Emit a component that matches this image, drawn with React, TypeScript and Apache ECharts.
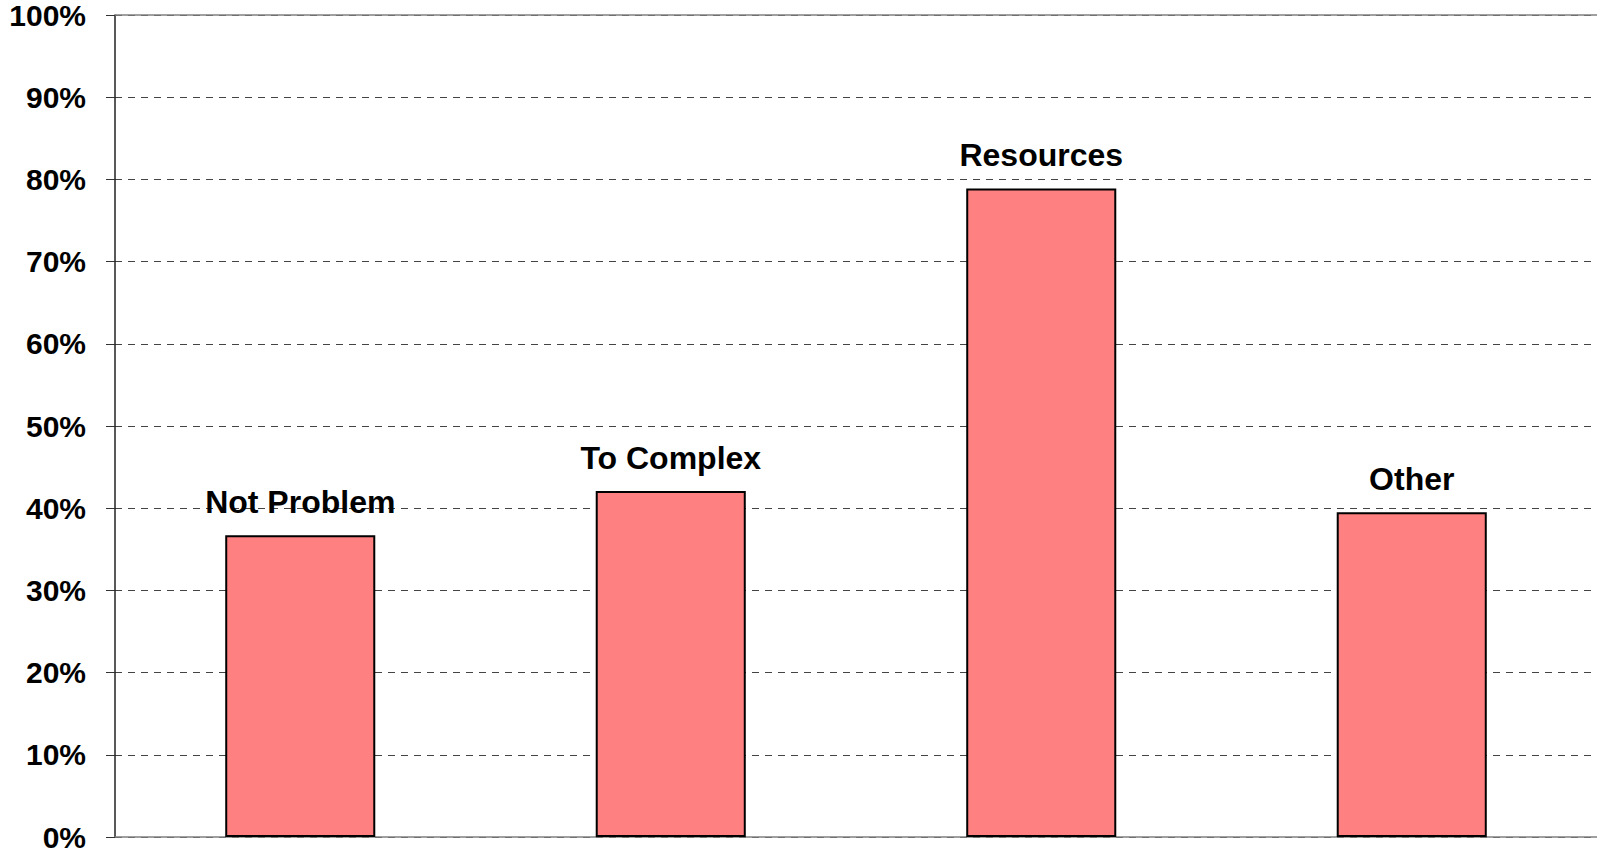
import React, { useEffect, useRef } from "react";
import * as echarts from "echarts";

const categories = ["Not Problem", "To Complex", "Resources", "Other"];
const values = [36.7, 42.1, 78.9, 39.5];

export default function App() {
  const ref = useRef<HTMLDivElement>(null);
  useEffect(() => {
    if (!ref.current) return;
    const chart = echarts.init(ref.current, null, { renderer: "svg" });
    chart.setOption({
      animation: false,
      backgroundColor: "#ffffff",
      grid: { left: 115, right: 0, top: 15, bottom: 21, containLabel: false },
      xAxis: {
        type: "category",
        data: categories,
        axisLine: { show: true, lineStyle: { color: "#808080", width: 1.5 } },
        axisTick: { show: false },
        axisLabel: { show: false },
        splitLine: { show: false },
      },
      yAxis: {
        type: "value",
        min: 0,
        max: 100,
        interval: 10,
        axisLine: { show: true, lineStyle: { color: "#222222", width: 1.5 } },
        axisTick: { show: true, length: 9, lineStyle: { color: "#333333", width: 1 } },
        axisLabel: {
          formatter: "{value}%",
          margin: 29,
          fontFamily: "Liberation Sans, Arial, sans-serif",
          fontWeight: "bold",
          fontSize: 30,
          padding: [5, 0, 0, 0],
          verticalAlign: "middle",
          color: "#000000",
        },
        splitLine: {
          show: true,
          lineStyle: { color: "#444444", type: [7, 6], width: 1 },
        },
      },
      series: [
        {
          type: "bar",
          data: values,
          barWidth: "40.5%",
          itemStyle: { color: "#FF8080", borderColor: "#000000", borderWidth: 2 },
          label: {
            show: true,
            position: "top",
            distance: 17,
            formatter: (p: any) => categories[p.dataIndex],
            fontFamily: "Liberation Sans, Arial, sans-serif",
            fontWeight: "bold",
            fontSize: 32,
            color: "#000000",
          },
          markLine: {
            silent: true,
            symbol: "none",
            label: { show: false },
            lineStyle: { color: "#808080", type: "solid", width: 1.5 },
            data: [{ yAxis: 100 }],
          },
        },
      ],
    });
    return () => chart.dispose();
  }, []);
  return (
    <div
      ref={ref}
      style={{ position: "fixed", left: 0, top: 0, width: "1597px", height: "858px" }}
    />
  );
}
